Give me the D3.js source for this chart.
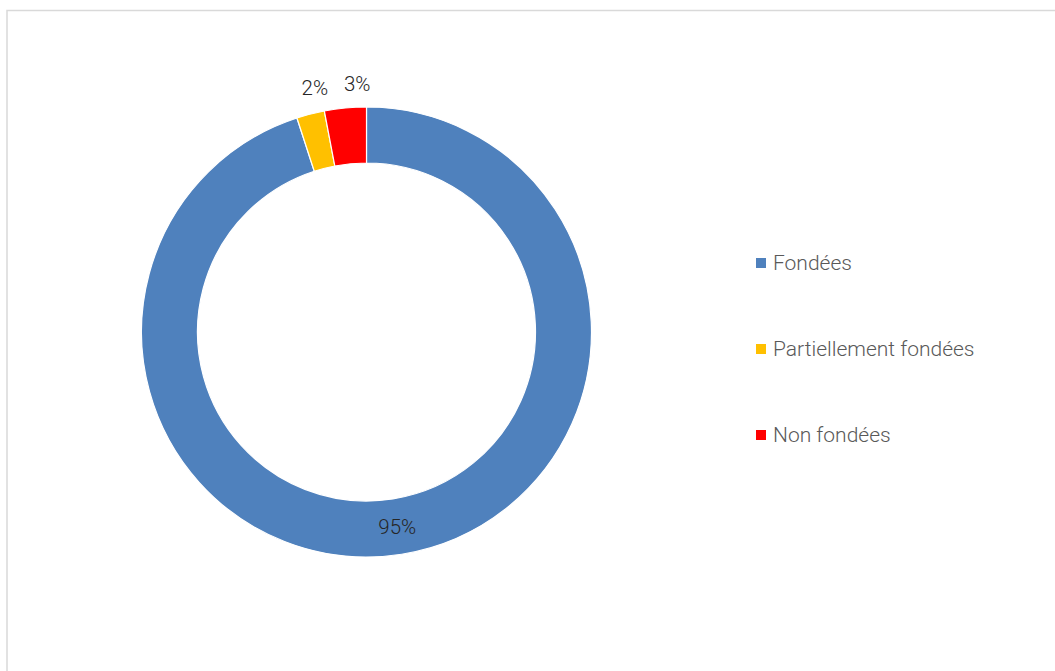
<!DOCTYPE html>
<html>
<head>
<meta charset="utf-8">
<script src="https://cdn.jsdelivr.net/npm/d3@7"></script>
<style>
  html, body { margin: 0; padding: 0; background: #fff; }
  svg { display: block; }
  text { font-family: Roboto, "Noto Sans", sans-serif; font-weight: 300; }
</style>
</head>
<body>
<svg id="chart" width="1055" height="671"></svg>
<script>
// Répartition des réclamations
const categories = ["Fondées", "Partiellement fondées", "Non fondées"];
const values = [95, 2, 3];
const labels = ["95%", "2%", "3%"];
const colors = ["#4f81bd", "#ffc000", "#ff0000"];

const svg = d3.select("#chart");
const W = 1055, H = 671;

// chart frame
svg.append("rect")
  .attr("x", 7).attr("y", 10.5)
  .attr("width", W + 10).attr("height", H + 10)
  .attr("fill", "#fff")
  .attr("stroke", "#d9d9d9").attr("stroke-width", 1.5);

const cx = 366.5, cy = 332, outerR = 225, innerR = 169;

const pie = d3.pie().sort(null).value(d => d)(values);
const arc = d3.arc().innerRadius(innerR).outerRadius(outerR);

const g = svg.append("g").attr("transform", `translate(${cx},${cy})`);

g.selectAll("path.slice")
  .data(pie)
  .join("path")
  .attr("class", "slice")
  .attr("d", arc)
  .attr("fill", (d, i) => colors[i])
  .attr("stroke", "#fff")
  .attr("stroke-width", 1.2);

// large slice labelled inside the ring, small slices labelled just outside
const outerArc = d3.arc().innerRadius(248).outerRadius(248);
const labelShift = [[0, 0], [10, -4], [14, -1]];
g.selectAll("text.pct")
  .data(pie)
  .join("text")
  .attr("class", "pct")
  .attr("transform", (d, i) => {
    const c = (d.endAngle - d.startAngle) > 1 ? arc.centroid(d) : outerArc.centroid(d);
    return `translate(${c[0] + labelShift[i][0]},${c[1] + labelShift[i][1]})`;
  })
  .attr("text-anchor", "middle")
  .attr("dominant-baseline", "central")
  .attr("font-size", 20.5)
  .attr("fill", "#262626")
  .text((d, i) => labels[i]);

// legend
const legend = svg.append("g").attr("transform", "translate(756,263)");
const item = legend.selectAll("g")
  .data(categories)
  .join("g")
  .attr("transform", (d, i) => `translate(0,${i * 86})`);
item.append("rect")
  .attr("x", 0).attr("y", -5)
  .attr("width", 10).attr("height", 10)
  .attr("fill", (d, i) => colors[i]);
item.append("text")
  .attr("x", 17).attr("y", 0)
  .attr("dominant-baseline", "central")
  .attr("font-size", 21)
  .attr("fill", "#595959")
  .text(d => d);
</script>
</body>
</html>
